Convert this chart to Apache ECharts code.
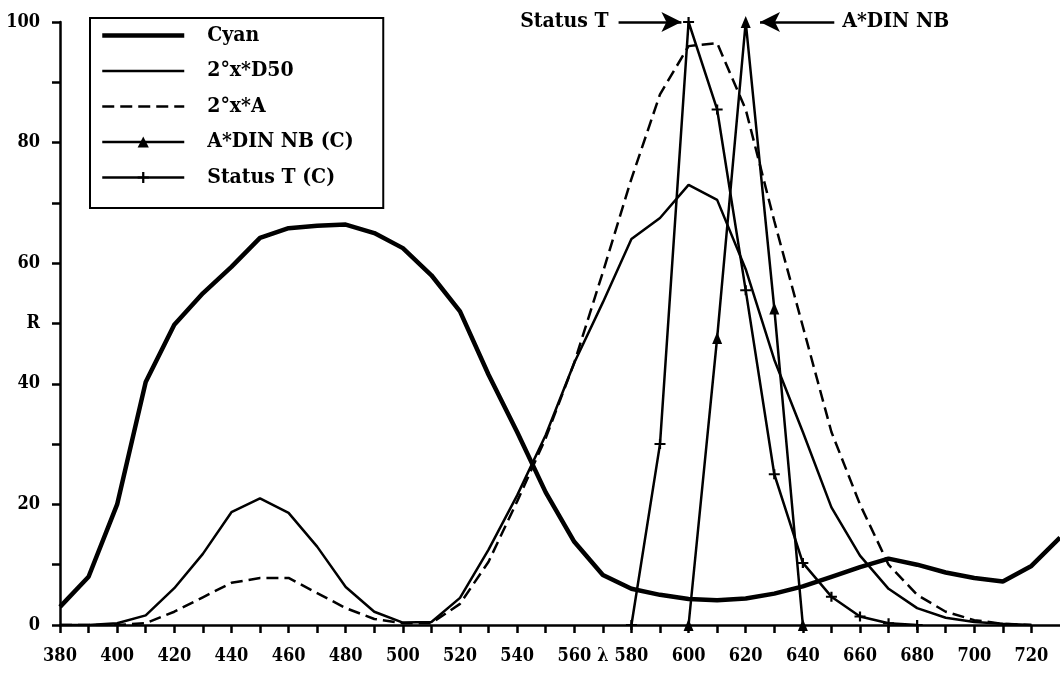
<html>
<head>
  <script src="https://cdn.jsdelivr.net/npm/echarts@6/dist/echarts.min.js"></script>
  <title>R vs wavelength</title>
</head>
<body style="margin: 0; overflow: hidden; background: #fff;">
  <div id="main" style="width: 1060px; height: 673px;"></div>
  <script>
    // wavelengths (nm)
    var wl = [380, 390, 400, 410, 420, 430, 440, 450, 460, 470, 480, 490, 500, 510, 520, 530, 540, 550,
      560, 570, 580, 590, 600, 610, 620, 630, 640, 650, 660, 670, 680, 690, 700, 710, 720, 730];
    var cyan = [3, 8, 20, 40.3, 49.8, 55, 59.4, 64.2, 65.8, 66.2, 66.4, 65, 62.5, 58, 52, 41.5, 32, 22,
      13.8, 8.3, 6, 5, 4.3, 4.1, 4.4, 5.2, 6.4, 8, 9.6, 11, 10, 8.7, 7.8, 7.2, 9.8, 14.5];
    var d50 = [0, 0, 0.3, 1.6, 6.1, 11.8, 18.7, 21, 18.6, 13, 6.3, 2.2, 0.4, 0.5, 4.5, 12.5, 21.5, 31.5,
      43.5, 53.5, 64, 67.5, 73, 70.5, 59, 44, 32, 19.5, 11.5, 6, 2.8, 1.2, 0.5, 0.2, 0];
    var illA = [0, 0, 0, 0.3, 2.2, 4.6, 7, 7.8, 7.8, 5.3, 2.8, 1, 0.3, 0.3, 3.5, 10.5, 20.5, 31,
      43.5, 58.5, 74, 88, 96, 96.5, 85.5, 67, 49.5, 32, 20, 10, 5, 2.2, 0.8, 0.2, 0];
    var dinWl = [600, 610, 620, 630, 640];
    var din = [0, 47.6, 100, 52.5, 0];
    var statWl = [580, 590, 600, 610, 620, 630, 640, 650, 660, 670, 680];
    var stat = [0, 30, 100, 85.5, 55.5, 25, 10.3, 4.7, 1.4, 0.3, 0];

    function pairs(xs, ys) {
      var out = [];
      for (let i = 0; i < ys.length; ++i) {
        out.push([xs[i], ys[i]]);
      }
      return out;
    }

    var font = '"DejaVu Serif Condensed", "DejaVu Serif", serif';
    var plus = 'path://M4,0H6V4H10V6H6V10H4V6H0V4H4Z';
    var txt = { color: '#000', fontFamily: font, fontWeight: 'bold', fontSize: 21 };
    var hideMark = { opacity: 0 };

    var myChart = echarts.init(document.getElementById('main'));
    var option = {
      animation: false,
      grid: { left: 60, top: 22, width: 1003, height: 603 },
      legend: {
        orient: 'vertical',
        left: 90,
        top: 18,
        padding: [7, 10, 20, 10],
        borderColor: '#000',
        borderWidth: 2,
        itemWidth: 82,
        itemHeight: 14,
        itemGap: 14.5,
        selectedMode: false,
        textStyle: {
          color: '#000', fontFamily: font, fontWeight: 'bold', fontSize: 21,
          lineHeight: 20, width: 166, padding: [0, 0, 0, 18]
        },
        data: [
          { name: 'Cyan', lineStyle: { width: 4.5 }, itemStyle: hideMark },
          { name: '2°x*D50', lineStyle: { width: 2.5 }, itemStyle: hideMark },
          { name: '2°x*A', lineStyle: { width: 2.5, type: [12, 6] }, itemStyle: hideMark },
          { name: 'A*DIN NB (C)', lineStyle: { width: 2.5 } },
          { name: 'Status T (C)', lineStyle: { width: 2.5 } }
        ]
      },
      xAxis: {
        type: 'value',
        min: 380,
        max: 730,
        interval: 10,
        splitLine: { show: false },
        axisLine: { lineStyle: { color: '#000', width: 2.5 } },
        axisTick: { length: 8, lineStyle: { color: '#000', width: 2.5 } },
        axisLabel: {
          margin: 22,
          color: '#000', fontFamily: font, fontWeight: 'bold', fontSize: 18,
          showMaxLabel: false,
          formatter: function (v) {
            if (v === 570) return 'λ';
            if (v % 20 === 0 && v <= 720) return v;
            return '';
          }
        }
      },
      yAxis: {
        type: 'value',
        min: 0,
        max: 100,
        interval: 10,
        splitLine: { show: false },
        axisLine: { show: true, lineStyle: { color: '#000', width: 2.5 } },
        axisTick: { show: true, length: 8, lineStyle: { color: '#000', width: 2.5 } },
        axisLabel: {
          margin: 20,
          color: '#000', fontFamily: font, fontWeight: 'bold', fontSize: 18,
          formatter: function (v) {
            if (v === 50) return 'R';
            if (v % 20 === 0) return v;
            return '';
          }
        }
      },
      series: [
        {
          name: 'Cyan', type: 'line', symbol: 'none', data: pairs(wl, cyan),
          lineStyle: { color: '#000', width: 4.5 }, itemStyle: { color: '#000' }
        },
        {
          name: '2°x*D50', type: 'line', symbol: 'none', data: pairs(wl, d50),
          lineStyle: { color: '#000', width: 2.5 }, itemStyle: { color: '#000' }
        },
        {
          name: '2°x*A', type: 'line', symbol: 'none', data: pairs(wl, illA),
          lineStyle: { color: '#000', width: 2.5, type: [12, 6] }, itemStyle: { color: '#000' }
        },
        {
          name: 'A*DIN NB (C)', type: 'line', symbol: 'triangle', symbolSize: [10, 12],
          data: pairs(dinWl, din),
          lineStyle: { color: '#000', width: 2.5 }, itemStyle: { color: '#000' },
          markLine: {
            silent: true,
            symbol: ['none', 'arrow'],
            symbolSize: [15, 20],
            lineStyle: { color: '#000', width: 2.5, type: 'solid' },
            label: Object.assign({ show: true, position: 'start', distance: 8, formatter: 'A*DIN NB' }, txt),
            data: [[{ coord: [651, 100] }, { coord: [625, 100] }]]
          }
        },
        {
          name: 'Status T (C)', type: 'line', symbol: plus, symbolSize: [11, 10],
          data: pairs(statWl, stat),
          lineStyle: { color: '#000', width: 2.5 }, itemStyle: { color: '#000' },
          markLine: {
            silent: true,
            symbol: ['none', 'arrow'],
            symbolSize: [15, 20],
            lineStyle: { color: '#000', width: 2.5, type: 'solid' },
            label: Object.assign({ show: true, position: 'start', distance: 10, formatter: 'Status T' }, txt),
            data: [[{ coord: [575.5, 100] }, { coord: [597.5, 100] }]]
          }
        }
      ]
    };
    myChart.setOption(option);
  </script>
</body>
</html>
